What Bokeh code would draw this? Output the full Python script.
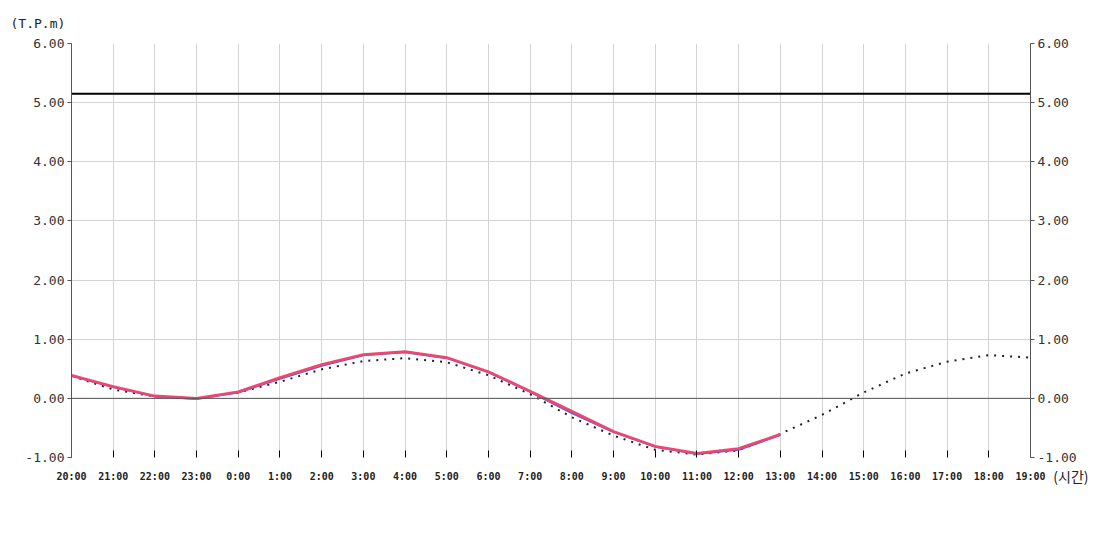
from bokeh.plotting import figure
from bokeh.models import Range1d, LinearAxis, FixedTicker, PrintfTickFormatter, Span, Title
from bokeh.embed import file_html
from bokeh.resources import INLINE

hours = ["20:00", "21:00", "22:00", "23:00", "0:00", "1:00", "2:00", "3:00", "4:00", "5:00",
         "6:00", "7:00", "8:00", "9:00", "10:00", "11:00", "12:00", "13:00", "14:00", "15:00",
         "16:00", "17:00", "18:00", "19:00"]
observed_red = [0.39, 0.20, 0.04, 0.00, 0.11, 0.35, 0.57, 0.74, 0.79, 0.69, 0.45, 0.12,
                -0.22, -0.56, -0.81, -0.93, -0.85, -0.61]
observed_blue = [0.38, 0.19, 0.03, -0.01, 0.10, 0.33, 0.55, 0.73, 0.78, 0.68, 0.44, 0.11,
                 -0.25, -0.57, -0.82, -0.94, -0.87, -0.62]
predicted = [0.38, 0.15, 0.03, 0.00, 0.10, 0.28, 0.49, 0.63, 0.68, 0.61, 0.39, 0.07,
             -0.32, -0.63, -0.87, -0.95, -0.88, -0.60, -0.28, 0.10, 0.42, 0.62, 0.73, 0.69]
threshold = 5.15
y_ticks = [-1, 0, 1, 2, 3, 4, 5, 6]

FONT = "DejaVu Sans Mono"
W, H = 1092, 520
p = figure(width=W, height=H, output_backend="svg", toolbar_location=None,
           x_range=Range1d(0, len(hours) - 1), y_range=Range1d(-1, 6),
           min_border_left=71, min_border_right=62, min_border_top=43, min_border_bottom=63)
p.outline_line_color = None
p.background_fill_color = "white"

xs = list(range(len(hours)))

# axes
p.xaxis.ticker = FixedTicker(ticks=xs)
p.xaxis.major_label_overrides = {i: h for i, h in enumerate(hours)}
p.xaxis.axis_line_color = None
p.xaxis.major_tick_in = 7
p.xaxis.major_tick_out = 0
p.xaxis.major_tick_line_color = "black"
p.xaxis.minor_tick_line_color = None
p.xaxis.major_label_text_font = FONT
p.xaxis.major_label_text_font_size = "10px"
p.xaxis.major_label_text_font_style = "bold"
p.xaxis.major_label_text_color = "#222222"
p.xaxis.major_label_standoff = 13

p.yaxis.ticker = FixedTicker(ticks=y_ticks)
p.yaxis.formatter = PrintfTickFormatter(format="%.2f")
right = LinearAxis(ticker=FixedTicker(ticks=y_ticks), formatter=PrintfTickFormatter(format="%.2f"))
p.add_layout(right, "right")
for ax in [p.yaxis[0], right]:
    ax.axis_line_color = "#555555"
    ax.major_tick_in = 0
    ax.major_tick_out = 4
    ax.major_tick_line_color = "#555555"
    ax.minor_tick_line_color = None
    ax.major_label_text_font = FONT
    ax.major_label_text_font_size = "13px"
    ax.major_label_text_color = "#333333"
    ax.major_label_standoff = 3

p.xgrid.ticker = FixedTicker(ticks=xs)
p.xgrid.grid_line_color = "#d3d3d3"
p.ygrid.ticker = FixedTicker(ticks=y_ticks)
p.ygrid.grid_line_color = "#d3d3d3"

p.add_layout(Span(location=0, dimension="width", line_color="#555555", line_width=1))

# series
p.line(x=xs, y=[threshold] * len(xs), line_color="black", line_width=2)
p.line(x=xs, y=predicted, line_color="#222222", line_width=2, line_dash="2 6")
p.line(x=xs[:len(observed_blue)], y=observed_blue, line_color="#3366ee", line_width=2)
p.line(x=xs[:len(observed_red)], y=observed_red, line_color="#f0466e", line_width=2.8)

p.add_layout(Title(text="(T.P.m)", align="left", offset=-61, standoff=26,
                   text_font=FONT, text_font_size="13px", text_font_style="normal",
                   text_color="#222222"), "above")
p.add_layout(Title(text="(시간)", align="right", offset=-58, standoff=-38, vertical_align="top",
                   text_font="Noto Sans CJK KR", text_font_size="14px", text_font_style="normal",
                   text_color="#222222"), "below")

open("out.html", "w").write(file_html(p, INLINE))
